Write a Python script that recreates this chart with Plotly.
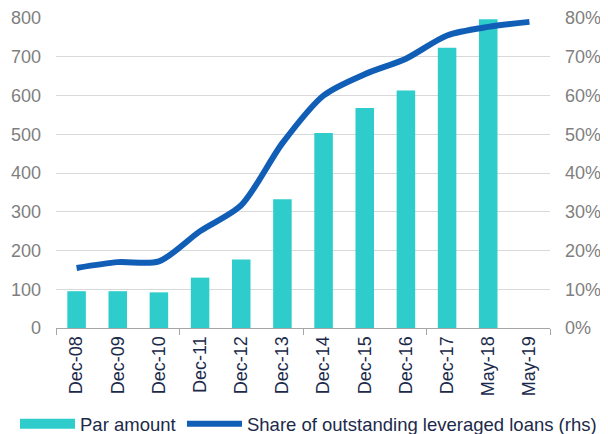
import plotly.graph_objects as go

categories = ["Dec-08", "Dec-09", "Dec-10", "Dec-11", "Dec-12", "Dec-13",
              "Dec-14", "Dec-15", "Dec-16", "Dec-17", "May-18", "May-19"]
par_amount = [95, 95, 92, 130, 177, 332, 503, 568, 613, 723, 797, None]
share_pct = [15.5, 17.0, 17.2, 25.0, 31.7, 47.7, 60.0, 65.5, 69.5, 75.5, 77.7, 79.0]

BAR_COLOR = "#2ECDCC"
LINE_COLOR = "#115EB6"
GRID = "#D9D9D9"
NAVY = "#1B2A4A"
GREY = "#7F7F7F"

fig = go.Figure()
fig.add_bar(x=categories, y=par_amount, name="Par amount", showlegend=False,
            marker=dict(color=BAR_COLOR, line=dict(width=0)), width=0.45)
# legend stand-in so the bar key is a wide block like the original
fig.add_scatter(x=[None], y=[None], mode="lines", name="Par amount",
                line=dict(color=BAR_COLOR, width=11), legend="legend")
fig.add_scatter(x=categories, y=share_pct, yaxis="y2", mode="lines",
                name="Share of outstanding leveraged loans (rhs)", legend="legend2",
                line=dict(color=LINE_COLOR, width=6, shape="spline", smoothing=0.8))

# invisible numeric axis just for the tick marks every 3 categories
fig.add_scatter(x=[-0.5, 11.5], y=[0, 0], xaxis="x2", mode="lines",
                line=dict(width=0), showlegend=False, hoverinfo="skip")

legend_style = dict(orientation="h", xanchor="left", y=-0.31, yanchor="middle",
                    bgcolor="rgba(0,0,0,0)", font=dict(color=NAVY, size=18.5),
                    itemwidth=55)

# page body adds an 8px offset, so the figure is 8px smaller than the window
fig.update_layout(
    width=600, height=426,
    margin=dict(l=48, r=58, t=10, b=106, autoexpand=False),
    plot_bgcolor="white", paper_bgcolor="white",
    font=dict(family="Liberation Sans, Arial", size=18, color=GREY),
    xaxis=dict(type="category", tickangle=-90, tickfont=dict(color=NAVY, size=18),
               showgrid=False, showline=True, linecolor="#A6A6A6", linewidth=1,
               ticks="", range=[-0.5, 11.5], automargin=False),
    xaxis2=dict(overlaying="x", range=[-0.5, 11.5], tickvals=[-0.5, 2.5, 5.5, 8.5, 11.5],
                ticks="outside", ticklen=6, tickcolor="#A6A6A6", showticklabels=False,
                showgrid=False, zeroline=False, anchor="y", side="bottom",
                automargin=False),
    yaxis=dict(range=[0, 800], dtick=100, showgrid=True, gridcolor=GRID,
               zeroline=False, ticks="", ticklabelstandoff=14, automargin=False),
    yaxis2=dict(range=[0, 80], dtick=10, overlaying="y", side="right",
                ticksuffix="%", showgrid=False, zeroline=False,
                ticklabelstandoff=14, automargin=False),
    legend=dict(legend_style, x=-0.083),
    legend2=dict(legend_style, x=0.255),
    showlegend=True,
)

fig.write_html("out.html")
